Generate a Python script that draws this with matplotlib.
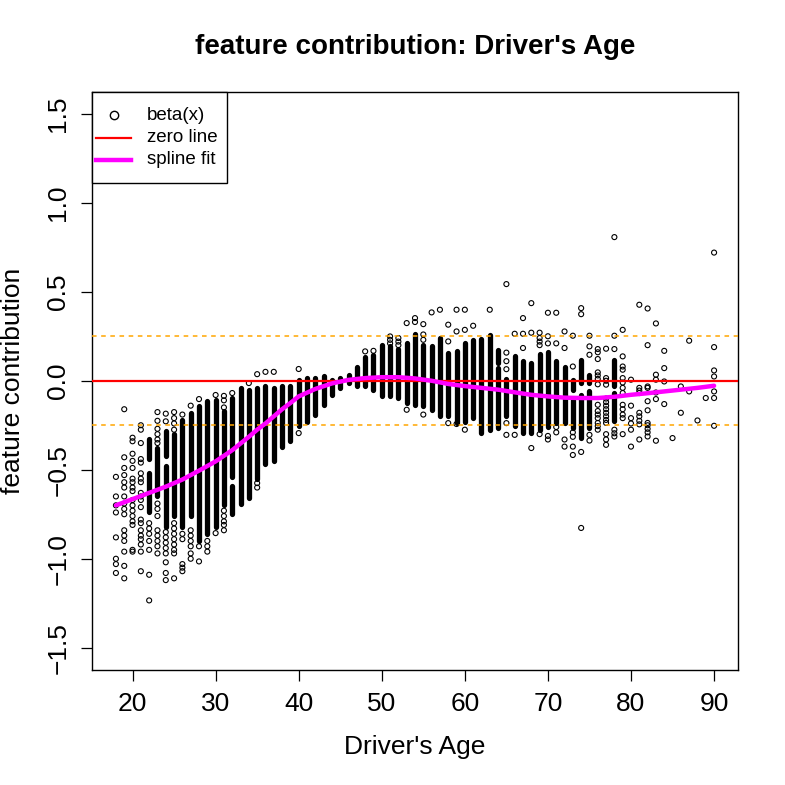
import matplotlib
matplotlib.use("Agg")
import matplotlib.pyplot as plt
from matplotlib.lines import Line2D
from matplotlib.patches import Rectangle

plt.rcParams['font.family'] = ['Liberation Sans', 'DejaVu Sans']

# ---------------- data ----------------
# dense columns of points: (age, low, high)
core_age = [22, 22, 23, 24, 24, 25, 26, 27, 28, 29, 30, 31, 32, 32, 33, 34, 35, 36, 37, 38,
            39, 40, 41, 42, 43, 44, 45, 46, 47, 48, 49, 50, 51, 52, 53, 54, 55, 56, 57, 58,
            59, 60, 61, 62, 63, 64, 64, 65, 66, 67, 68, 69, 70, 71, 72, 73, 73, 74, 74, 75,
            75, 78, 78]
core_lo = [-0.44, -0.74, -0.65, -0.425, -0.82, -0.76, -0.82, -0.76, -0.90, -0.86, -0.82, -0.70,
           -0.54, -0.75, -0.69, -0.66, -0.55, -0.47, -0.45, -0.37, -0.34, -0.257, -0.23, -0.19,
           -0.135, -0.08, -0.04, -0.013, -0.03, -0.03, -0.05, -0.088, -0.088, -0.097, -0.125,
           -0.135, -0.144, -0.163, -0.20, -0.20, -0.238, -0.23, -0.21, -0.294, -0.275, -0.266,
           0.10, -0.20, -0.257, -0.294, -0.294, -0.275, -0.26, -0.238, -0.24, -0.05, -0.266,
           -0.013, -0.323, -0.013, -0.266, -0.032, -0.228]
core_hi = [-0.33, -0.52, -0.38, -0.285, -0.48, -0.30, -0.22, -0.18, -0.144, -0.116, -0.107, -0.17,
           -0.097, -0.59, -0.04, -0.05, -0.04, -0.03, -0.04, -0.03, -0.028, 0.006, 0.015, 0.015,
           0.024, 0.006, 0.017, 0.03, 0.08, 0.136, 0.146, 0.20, 0.193, 0.18, 0.21, 0.26, 0.20,
           0.193, 0.24, 0.155, 0.165, 0.21, 0.23, 0.233, 0.258, 0.07, 0.174, 0.01, 0.141, 0.112,
           0.10, 0.15, 0.16, 0.112, 0.08, 0.006, -0.107, 0.118, -0.079, 0.034, -0.06, 0.118,
           -0.069]

# individual points
pt_age = ([18] * 8 + [19] * 16 + [20] * 17 + [21] * 20 + [22] * 7 + [23] * 14 + [24] * 10
          + [25] * 12 + [26] * 6 + [27] * 7 + [28] * 3 + [29] * 3 + [30] * 2 + [31] * 8
          + [32, 34] + [35] * 3 + [36, 37] + [40] * 2 + [48, 49] + [51] * 3 + [52] * 3
          + [53] * 2 + [54] * 2 + [55] * 4 + [56, 57] + [58] * 3 + [59] * 3 + [60] * 3
          + [61, 63] + [65] * 6 + [66] * 2 + [67] * 3 + [68] * 3 + [69] * 5 + [70] * 5
          + [71] * 4 + [72] * 4 + [73] * 6 + [74] * 4 + [75] * 5 + [76] * 14 + [77] * 15
          + [78] * 6 + [79] * 13 + [80] * 6 + [81] * 9 + [82] * 11 + [83] * 6 + [84] * 4
          + [85] + [86] * 2 + [87] * 2 + [88, 89] + [90] * 7)
pt_val = [
    -0.54, -0.65, -0.70, -0.74, -0.88, -1.00, -1.03, -1.08,
    -0.16, -0.43, -0.49, -0.53, -0.57, -0.60, -0.65, -0.69, -0.72, -0.75, -0.84, -0.87, -0.90,
    -0.96, -1.04, -1.11,
    -0.32, -0.34, -0.41, -0.45, -0.49, -0.55, -0.57, -0.60, -0.62, -0.67, -0.70, -0.73, -0.76,
    -0.79, -0.81, -0.95, -0.96,
    -0.25, -0.275, -0.35, -0.44, -0.46, -0.52, -0.55, -0.57, -0.63, -0.65, -0.67, -0.71, -0.78,
    -0.80, -0.84, -0.87, -0.89, -0.92, -0.96, -1.07,
    -0.80, -0.83, -0.86, -0.90, -0.95, -1.09, -1.234,
    -0.176, -0.225, -0.27, -0.30, -0.33, -0.35, -0.69, -0.72, -0.76, -0.84, -0.87, -0.90, -0.93,
    -0.97,
    -0.185, -0.228, -0.85, -0.88, -0.91, -0.94, -0.97, -1.02, -1.08, -1.12,
    -0.176, -0.21, -0.24, -0.275, -0.80, -0.83, -0.86, -0.89, -0.92, -0.95, -0.97, -1.11,
    -0.19, -0.86, -0.89, -1.03, -1.05, -1.07,
    -0.14, -0.84, -0.87, -0.90, -0.93, -0.97, -1.00,
    -0.103, -0.93, -1.015,
    -0.90, -0.93, -0.96,
    -0.08, -0.856,
    -0.085, -0.11, -0.15, -0.73, -0.76, -0.79, -0.81, -0.84,
    -0.069, -0.013,
    0.037, -0.575, -0.60,
    0.05, 0.05,
    0.066, -0.294,
    0.165, 0.168,
    0.249, 0.23, 0.21,
    0.24, 0.22, 0.20,
    0.324, -0.163,
    0.352, 0.33,
    0.318, 0.26, 0.23, -0.19,
    0.384, 0.399,
    0.315, 0.221, -0.238,
    0.399, 0.277, -0.243,
    0.399, 0.286, -0.275,
    0.309, 0.399,
    0.543, 0.158, 0.11, 0.065, -0.238, -0.304,
    0.264, -0.304,
    0.352, 0.264, 0.184,
    0.436, 0.27, -0.378,
    0.27, 0.24, 0.22, 0.20, -0.30,
    0.382, 0.25, 0.21, -0.31, -0.33,
    0.382, 0.21, -0.26, -0.29,
    0.277, 0.184, -0.33, -0.37,
    0.253, 0.08, -0.29, -0.315, -0.37, -0.417,
    0.408, 0.374, -0.40, -0.827,
    0.253, 0.193, 0.146, -0.304, -0.336,
    0.178, 0.16, 0.122, 0.047, 0.03, 0.01, -0.02, -0.135, -0.17, -0.19, -0.21, -0.237, -0.255,
    -0.275,
    0.18, 0.015, 0.0, -0.022, -0.10, -0.12, -0.14, -0.16, -0.18, -0.20, -0.22, -0.237, -0.30,
    -0.33, -0.36,
    0.807, 0.253, 0.178, -0.275, -0.295, -0.313,
    0.286, 0.137, 0.08, 0.062, 0.015, -0.01, -0.04, -0.069, -0.135, -0.16, -0.19, -0.21, -0.30,
    0.006, -0.14, -0.21, -0.24, -0.275, -0.37,
    0.427, -0.04, -0.055, -0.069, -0.18, -0.20, -0.225, -0.245, -0.33,
    0.406, 0.2, -0.032, -0.04, -0.115, -0.166, -0.237, -0.25, -0.27, -0.29, -0.313,
    0.322, 0.034, 0.006, -0.066, -0.103, -0.337,
    0.168, 0.071, -0.004, -0.131,
    -0.322,
    -0.032, -0.18,
    0.225, -0.06,
    -0.223, -0.097,
    0.72, 0.189, 0.058, 0.024, -0.06, -0.097, -0.253,
]

# spline fit
sp_age = [18, 20, 22, 24, 26, 28, 30, 32, 34, 35, 36, 37, 38, 39, 40, 42, 44, 46, 48, 50, 52,
          54, 56, 58, 60, 62, 64, 66, 68, 70, 72, 74, 76, 78, 80, 82, 84, 86, 88, 90]
sp_val = [-0.70, -0.665, -0.63, -0.595, -0.555, -0.505, -0.453, -0.39, -0.315, -0.275, -0.24,
          -0.20, -0.16, -0.125, -0.088, -0.046, -0.015, 0.005, 0.015, 0.02, 0.02, 0.013, 0.0,
          -0.018, -0.03, -0.04, -0.05, -0.065, -0.079, -0.088, -0.095, -0.097, -0.097, -0.09,
          -0.079, -0.07, -0.06, -0.05, -0.04, -0.028]

x_ticks = [20, 30, 40, 50, 60, 70, 80, 90]
y_ticks = [-1.5, -1.0, -0.5, 0.0, 0.5, 1.0, 1.5]
band = 0.25
legend_labels = ['beta(x)', 'zero line', 'spline fit']

# ---------------- plot ----------------
W = 785
fig = plt.figure(figsize=(7.85, 7.85), dpi=100)
ax = fig.add_axes([92 / W, 115 / W, (738 - 92) / W, (670 - 91.5) / W])
ax.set_xlim(15.12, 92.88)
ax.set_ylim(-1.625, 1.625)

ax.vlines(core_age, core_lo, core_hi, colors='black', linewidth=3.8, capstyle='round', zorder=2)
ax.scatter(pt_age, pt_val, s=13, facecolors='none', edgecolors='black', linewidths=0.8, zorder=3)

ax.axhline(0, color='red', linewidth=1.6, zorder=4)
ax.axhline(band, color='orange', linewidth=1.1, linestyle=(0, (3, 3)), zorder=4)
ax.axhline(-band, color='orange', linewidth=1.1, linestyle=(0, (3, 3)), zorder=4)
ax.plot(sp_age, sp_val, color='magenta', linewidth=3.2, solid_capstyle='round', zorder=5)

ax.set_xticks(x_ticks)
ax.set_xticklabels([str(v) for v in x_ticks])
ax.set_yticks(y_ticks)
ax.set_yticklabels([f"{v:.1f}".replace('-', '\u2212') for v in y_ticks],
                   rotation=90, va='center')
ax.tick_params(direction='out', length=7.7, width=0.9, labelsize=19, colors='black')
ax.tick_params(axis='x', pad=8)
ax.tick_params(axis='y', pad=8)
for s in ax.spines.values():
    s.set_linewidth(1.0)

fig.text(415 / W, 1 - 47 / W, "feature contribution: Driver's Age", ha='center', va='center',
         fontsize=20, fontweight='bold')
fig.text(415 / W, 1 - 747 / W, "Driver's Age", ha='center', va='center', fontsize=19)
fig.text(13 / W, 1 - 381 / W, "feature contribution", ha='center', va='center',
         rotation=90, fontsize=19)


# legend drawn in figure pixel coordinates (R-style box in the top-left corner)
def fx(px):
    return px / W


def fy(py):
    return 1 - py / W


fig.add_artist(Rectangle((fx(92), fy(183)), fx(227) - fx(92), fy(91.5) - fy(183),
                         transform=fig.transFigure, facecolor='white', edgecolor='black',
                         linewidth=1.0, zorder=10))
rows = [115, 137.5, 160]
fig.add_artist(Line2D([fx(113.5)], [fy(rows[0])], transform=fig.transFigure, marker='o',
                      linestyle='none', markerfacecolor='none', markeredgecolor='black',
                      markersize=6, markeredgewidth=1.0, zorder=11))
fig.add_artist(Line2D([fx(96), fx(131)], [fy(rows[1])] * 2, transform=fig.transFigure,
                      color='red', linewidth=1.6, zorder=11))
fig.add_artist(Line2D([fx(96), fx(131)], [fy(rows[2])] * 2, transform=fig.transFigure,
                      color='magenta', linewidth=3.2, zorder=11))
for r, lab in zip(rows, legend_labels):
    fig.text(fx(147), fy(r), lab, ha='left', va='center', fontsize=13.5, zorder=12)

fig.savefig('out.png', dpi=100)
